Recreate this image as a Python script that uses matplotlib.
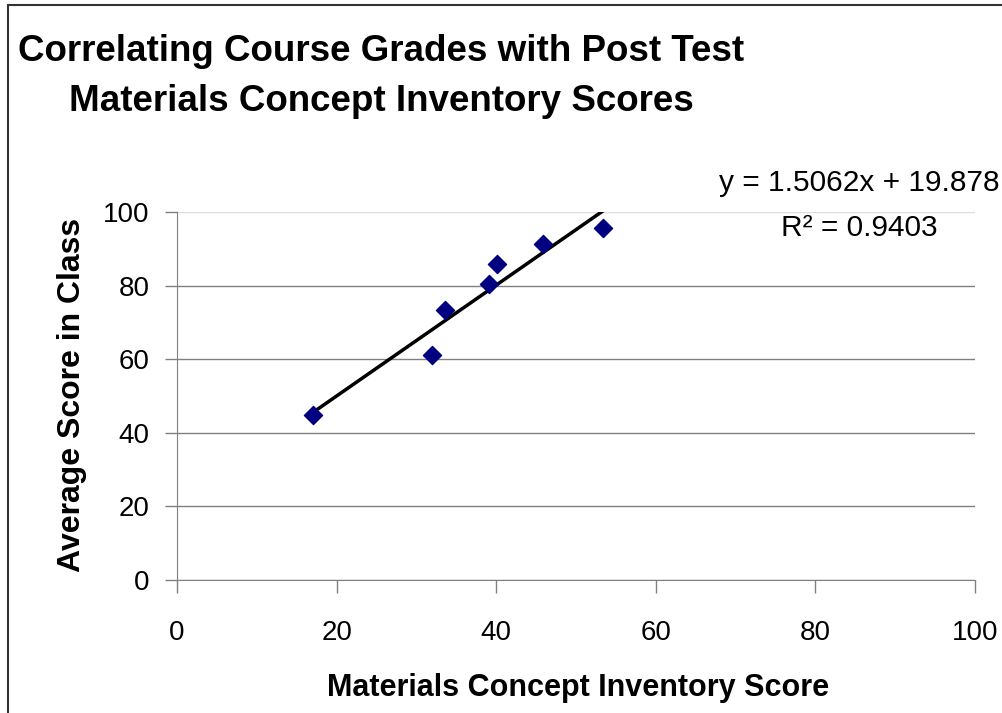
import numpy as np
import matplotlib
matplotlib.use("Agg")
import matplotlib.pyplot as plt
from matplotlib.patches import Rectangle

plt.rcParams['font.family'] = ['Liberation Sans', 'DejaVu Sans']

# data
mci_score = [17.1, 32.0, 33.6, 39.1, 40.1, 45.9, 53.4]
class_score = [44.9, 61.2, 73.3, 80.4, 86.0, 91.3, 95.6]
slope = 1.5062
intercept = 19.878
r_squared = 0.9403
x_ticks = [0, 20, 40, 60, 80, 100]
y_ticks = [0, 20, 40, 60, 80, 100]

fig = plt.figure(figsize=(10.03, 7.13), dpi=100)
ax = fig.add_axes([0.1765, 0.1865, 0.7955, 0.5162])

# outer chart border (only left/top visible in the original crop)
fig.patches.append(Rectangle((0.008, -0.5), 2, 1.493, transform=fig.transFigure,
                             fill=False, edgecolor='#333333', lw=1.5))

ax.scatter(mci_score, class_score, marker='D', s=85, color='#000080', zorder=3)

# linear trendline over the data range
xs = np.array([min(mci_score), max(mci_score)])
ax.plot(xs, slope * xs + intercept, color='black', lw=2.5, zorder=2)

ax.set_xlim(0, 100)
ax.set_ylim(0, 100)
ax.set_xticks(x_ticks)
ax.set_yticks(y_ticks)
ax.tick_params(axis='both', labelsize=20, direction='out', length=9,
               color='#808080', width=1)
ax.tick_params(axis='x', pad=20)
ax.tick_params(axis='y', pad=11)
for s in ['top', 'right']:
    ax.spines[s].set_visible(False)
for s in ['left', 'bottom']:
    ax.spines[s].set_color('#808080')
ax.yaxis.grid(True, color='#808080', lw=1)
ax.get_ygridlines()[-1].set_color('#dddddd')
ax.set_axisbelow(True)

ax.set_xlabel('Materials Concept Inventory Score', fontsize=22, fontweight='bold', va='baseline')
ax.xaxis.set_label_coords(0.502, -0.316)
ax.set_ylabel('Average Score in Class', fontsize=23, fontweight='bold', va='center')
ax.yaxis.set_label_coords(-0.132, 0.504)

fig.text(0.380, 0.9144, 'Correlating Course Grades with Post Test',
         ha='center', va='baseline', fontsize=26.5, fontweight='bold')
fig.text(0.380, 0.8443, 'Materials Concept Inventory Scores',
         ha='center', va='baseline', fontsize=26.5, fontweight='bold')

fig.text(0.857, 0.7321, 'y = %.4fx + %.3f' % (slope, intercept),
         ha='center', va='baseline', fontsize=21.5)
fig.text(0.857, 0.669, 'R\u00b2 = %.4f' % r_squared,
         ha='center', va='baseline', fontsize=21.5)

fig.savefig('out.png', dpi=100)
